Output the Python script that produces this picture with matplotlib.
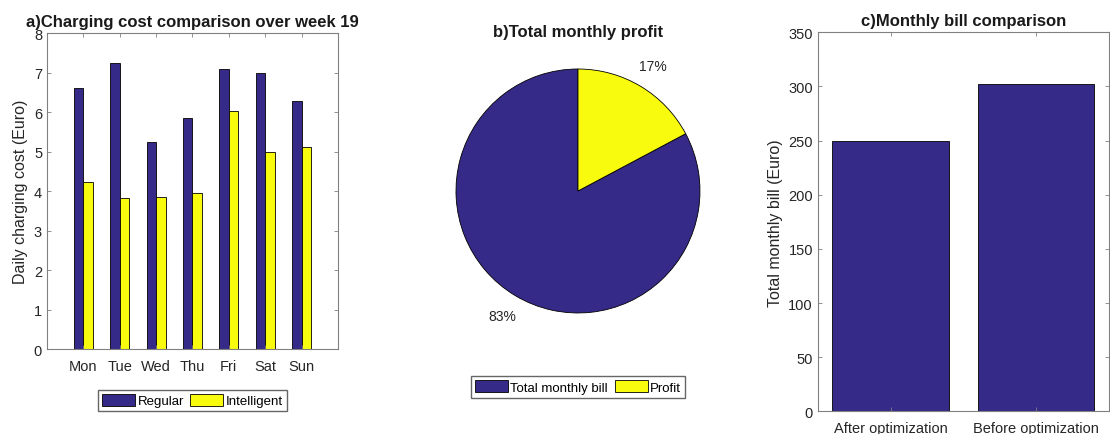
import matplotlib.pyplot as plt
import numpy as np

plt.rcParams["font.family"] = ["Liberation Sans", "DejaVu Sans"]

# weekly charging cost (Euro)
days = ["Mon", "Tue", "Wed", "Thu", "Fri", "Sat", "Sun"]
regular = [6.60, 7.23, 5.25, 5.84, 7.09, 6.98, 6.28]
intelligent = [4.22, 3.83, 3.86, 3.94, 6.03, 5.00, 5.11]

# monthly totals (Euro)
bill_labels = ["After optimization", "Before optimization"]
bill_values = [250, 302]
pie_labels = ["Total monthly bill", "Profit"]
pie_values = [250, 52]

BLUE = "#352A87"
YELLOW = "#F9FB0E"
TXT = "#262626"
AX = "#808080"

legend_kw = dict(fontsize=9.5, frameon=True, fancybox=False, edgecolor="#404040",
                 handlelength=2.5, handleheight=1.0, handletextpad=0.2,
                 columnspacing=0.5, borderpad=0.3, borderaxespad=0)


def matlab_axes(ax):
    for s in ax.spines.values():
        s.set_color(AX)
        s.set_linewidth(0.8)
    ax.tick_params(direction="in", top=True, right=True, colors=AX,
                   labelcolor=TXT, labelsize=10.5, length=3, width=0.6)


fig = plt.figure(figsize=(11.1, 4.35), dpi=100)

# a) daily charging cost
ax1 = fig.add_axes([0.0423, 0.1954, 0.2622, 0.7264])
x = np.arange(1, len(days) + 1)
w = 0.26
ax1.bar(x - w / 2, regular, w, color=BLUE, edgecolor="black", linewidth=0.6, label="Regular")
ax1.bar(x + w / 2, intelligent, w, color=YELLOW, edgecolor="black", linewidth=0.6, label="Intelligent")
ax1.set_xlim(0, 8)
ax1.set_ylim(0, 8)
ax1.set_xticks(x)
ax1.set_xticklabels(days)
ax1.set_yticks(range(0, 9))
ax1.set_ylabel("Daily charging cost (Euro)", color=TXT, fontsize=11.5, labelpad=4)
ax1.set_title("a)Charging cost comparison over week 19", fontsize=12,
              fontweight="bold", color="#1a1a1a", pad=5)
matlab_axes(ax1)
ax1.tick_params(axis="x", pad=7)
ax1.legend(loc="upper center", bbox_to_anchor=(0.5, -0.13), ncol=2, **legend_kw)

# b) profit share of the monthly bill
ax2 = fig.add_axes([0.4108, 0.2782, 0.2198, 0.5609])
wedges, texts, autotexts = ax2.pie(
    pie_values, colors=[BLUE, YELLOW], startangle=90, counterclock=True,
    autopct=lambda p: f"{p:.0f}%", pctdistance=1.2, labeldistance=None,
    wedgeprops=dict(edgecolor="black", linewidth=0.6))
for t in autotexts:
    t.set_color(TXT)
    t.set_fontsize(10)
ax2.set_xlim(-1, 1)
ax2.set_ylim(-1, 1)
ax2.set_aspect("equal")
ax2.set_title("b)Total monthly profit", fontsize=12, fontweight="bold",
              color="#1a1a1a", pad=24)
ax2.legend(wedges, pie_labels, loc="upper center", bbox_to_anchor=(0.5, -0.26),
           ncol=2, **legend_kw)

# c) monthly bill before / after optimization
ax3 = fig.add_axes([0.7367, 0.0522, 0.2624, 0.8713])
xb = np.arange(1, len(bill_values) + 1)
ax3.bar(xb, bill_values, 0.8, color=BLUE, edgecolor="black", linewidth=0.6)
ax3.set_xlim(0.5, 2.5)
ax3.set_ylim(0, 350)
ax3.set_xticks(xb)
ax3.set_xticklabels(bill_labels)
ax3.set_yticks(range(0, 351, 50))
ax3.set_ylabel("Total monthly bill (Euro)", color=TXT, fontsize=11.5, labelpad=4)
ax3.set_title("c)Monthly bill comparison", fontsize=12, fontweight="bold",
              color="#1a1a1a", pad=5)
matlab_axes(ax3)
ax3.tick_params(axis="x", pad=7)

fig.savefig("out.png", dpi=100)
